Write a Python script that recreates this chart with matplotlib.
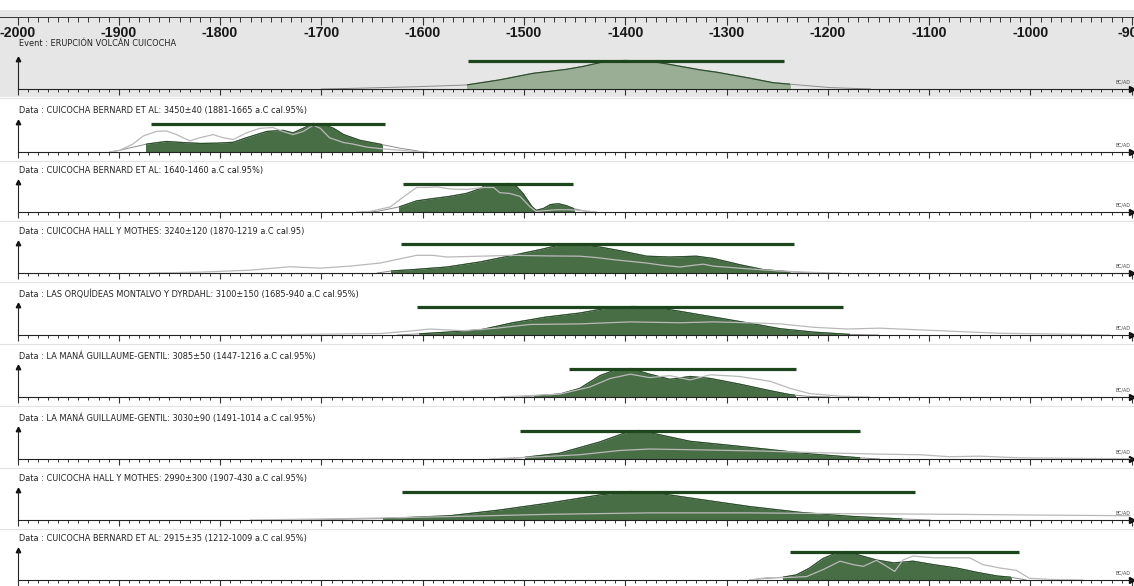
import numpy as np
import matplotlib.pyplot as plt
from matplotlib.patches import Rectangle
from matplotlib.lines import Line2D

plt.rcParams['axes.unicode_minus'] = False

# ---- data (years BC as negative, relative probability 0..1) ----
event_title = "Event : ERUPCIÓN VOLCÁN CUICOCHA"
event_bar = (-1555, -1243)
event_fill = (-1556, -1237)
event_yr = [-1700, -1672, -1606, -1557, -1524, -1491, -1458, -1442, -1418, -1400,
            -1376, -1359, -1326, -1310, -1277, -1254, -1228, -1198, -1158]
event_h = [0.0, 0.02, 0.08, 0.14, 0.32, 0.55, 0.69, 0.79, 0.98, 1.0,
           0.98, 0.88, 0.67, 0.59, 0.38, 0.22, 0.14, 0.05, 0.0]

titles = [
    "Data : CUICOCHA BERNARD ET AL: 3450±40 (1881-1665 a.C cal.95%)",
    "Data : CUICOCHA BERNARD ET AL: 1640-1460 a.C cal.95%)",
    "Data : CUICOCHA HALL Y MOTHES: 3240±120 (1870-1219 a.C cal.95)",
    "Data : LAS ORQUÍDEAS MONTALVO Y DYRDAHL: 3100±150 (1685-940 a.C cal.95%)",
    "Data : LA MANÁ GUILLAUME-GENTIL: 3085±50 (1447-1216 a.C cal.95%)",
    "Data : LA MANÁ GUILLAUME-GENTIL: 3030±90 (1491-1014 a.C cal.95%)",
    "Data : CUICOCHA HALL Y MOTHES: 2990±300 (1907-430 a.C cal.95%)",
    "Data : CUICOCHA BERNARD ET AL: 2915±35 (1212-1009 a.C cal.95%)",
]

p1_bar, p1_fill = (-1868, -1637), (-1873, -1640)
p1_post_yr = [-1909, -1899, -1886, -1872, -1853, -1836, -1820, -1803, -1787, -1774, -1754, -1738,
              -1728, -1718, -1708, -1698, -1688, -1678, -1662, -1640, -1622, -1609, -1600]
p1_post_h = [0.0, 0.06, 0.17, 0.28, 0.37, 0.33, 0.30, 0.31, 0.34, 0.50, 0.72, 0.76,
             0.67, 0.83, 1.0, 0.97, 0.83, 0.61, 0.41, 0.26, 0.13, 0.06, 0.0]
p1_like_yr = [-1909, -1899, -1886, -1876, -1863, -1853, -1843, -1830, -1820, -1807, -1797, -1787, -1774, -1761,
              -1748, -1738, -1728, -1718, -1708, -1701, -1692, -1678, -1669, -1655, -1639, -1622, -1609, -1595]
p1_like_h = [0.0, 0.06, 0.28, 0.56, 0.72, 0.74, 0.61, 0.39, 0.50, 0.61, 0.50, 0.44, 0.67, 0.83,
             0.86, 0.72, 0.61, 0.72, 0.94, 0.83, 0.50, 0.33, 0.28, 0.17, 0.11, 0.06, 0.02, 0.0]

p2_bar, p2_fill = (-1619, -1452), (-1623, -1451)
p2_post_yr = [-1660, -1645, -1623, -1606, -1590, -1573, -1557, -1543, -1537, -1514, -1507,
              -1501, -1492, -1488, -1481, -1474, -1466, -1458, -1451, -1441, -1432]
p2_post_h = [0.0, 0.02, 0.18, 0.39, 0.47, 0.55, 0.65, 0.82, 0.98, 1.0, 0.88,
             0.65, 0.18, 0.06, 0.12, 0.26, 0.29, 0.22, 0.12, 0.04, 0.0]
p2_like_yr = [-1665, -1652, -1632, -1619, -1606, -1596, -1586, -1573, -1557, -1540,
              -1530, -1524, -1514, -1504, -1494, -1488, -1468, -1455, -1441, -1428]
p2_like_h = [0.0, 0.02, 0.18, 0.53, 0.86, 0.86, 0.88, 0.81, 0.79, 0.86,
             0.86, 0.68, 0.65, 0.55, 0.18, 0.02, 0.08, 0.08, 0.04, 0.0]

p3_bar, p3_fill = (-1621, -1233), (-1631, -1237)
p3_post_yr = [-1645, -1631, -1609, -1576, -1543, -1511, -1484, -1465, -1445, -1425,
              -1405, -1379, -1356, -1330, -1313, -1287, -1264, -1237, -1215]
p3_post_h = [0.0, 0.07, 0.12, 0.21, 0.39, 0.62, 0.82, 0.98, 1.0, 0.91,
             0.78, 0.59, 0.56, 0.59, 0.51, 0.29, 0.12, 0.04, 0.0]
p3_like_yr = [-1869, -1820, -1770, -1731, -1701, -1672, -1642, -1606, -1590, -1576, -1543, -1511, -1478,
              -1445, -1428, -1412, -1379, -1363, -1346, -1333, -1323, -1313, -1280, -1247, -1214, -1188]
p3_like_h = [0.0, 0.03, 0.10, 0.22, 0.17, 0.24, 0.35, 0.62, 0.62, 0.56, 0.59, 0.62, 0.60,
             0.59, 0.54, 0.47, 0.35, 0.27, 0.21, 0.27, 0.31, 0.24, 0.15, 0.07, 0.02, 0.0]

p4_bar, p4_fill = (-1606, -1185), (-1604, -1178)
p4_post_yr = [-1625, -1604, -1576, -1543, -1511, -1478, -1445, -1412, -1392, -1372,
              -1346, -1313, -1280, -1247, -1214, -1178, -1150]
p4_post_h = [0.0, 0.04, 0.10, 0.18, 0.43, 0.63, 0.77, 0.98, 1.0, 0.98,
             0.83, 0.63, 0.43, 0.22, 0.10, 0.02, 0.0]
p4_like_yr = [-1770, -1692, -1642, -1609, -1593, -1560, -1527, -1494, -1445, -1395, -1346,
              -1313, -1280, -1247, -1214, -1181, -1149, -1109, -1070, -1030, -971, -922]
p4_like_h = [0.0, 0.03, 0.05, 0.15, 0.21, 0.15, 0.24, 0.37, 0.39, 0.46, 0.43,
             0.46, 0.43, 0.39, 0.27, 0.21, 0.24, 0.18, 0.12, 0.06, 0.03, 0.0]

p5_bar, p5_fill = (-1456, -1231), (-1490, -1232)
p5_post_yr = [-1504, -1484, -1474, -1465, -1445, -1425, -1410, -1395, -1376, -1356,
              -1336, -1316, -1287, -1257, -1237, -1218, -1198]
p5_post_h = [0.0, 0.05, 0.08, 0.10, 0.30, 0.75, 0.95, 1.0, 0.80, 0.62,
             0.72, 0.65, 0.45, 0.22, 0.08, 0.02, 0.0]
p5_like_yr = [-1524, -1494, -1465, -1435, -1415, -1395, -1376, -1356, -1336, -1316,
              -1287, -1257, -1237, -1218, -1188, -1159]
p5_like_h = [0.0, 0.05, 0.10, 0.35, 0.65, 0.80, 0.68, 0.75, 0.60, 0.78,
             0.72, 0.55, 0.30, 0.12, 0.03, 0.0]

p6_bar, p6_fill = (-1504, -1168), (-1499, -1168)
p6_post_yr = [-1524, -1504, -1465, -1425, -1400, -1386, -1366, -1336, -1297, -1257, -1218, -1168, -1149]
p6_post_h = [0.0, 0.04, 0.2, 0.6, 0.92, 1.0, 0.85, 0.62, 0.48, 0.33, 0.18, 0.04, 0.0]
p6_like_yr = [-1534, -1484, -1445, -1405, -1376, -1326, -1267, -1208, -1149, -1109,
              -1080, -1050, -1010, -951, -902]
p6_like_h = [0.0, 0.08, 0.15, 0.30, 0.35, 0.32, 0.28, 0.22, 0.17, 0.15,
             0.08, 0.10, 0.04, 0.02, 0.01]

p7_bar, p7_fill = (-1620, -1114), (-1639, -1127)
p7_post_yr = [-1721, -1639, -1573, -1524, -1474, -1425, -1395, -1366, -1326, -1277, -1228, -1178, -1129, -1099]
p7_post_h = [0.0, 0.05, 0.15, 0.35, 0.60, 0.88, 1.0, 0.93, 0.72, 0.47, 0.27, 0.13, 0.04, 0.0]
p7_like_yr = [-1770, -1672, -1573, -1474, -1376, -1277, -1178, -1080, -981, -902]
p7_like_h = [0.0, 0.05, 0.12, 0.20, 0.25, 0.25, 0.22, 0.20, 0.17, 0.15]

p8_bar, p8_fill = (-1237, -1011), (-1244, -1019)
p8_post_yr = [-1277, -1267, -1244, -1231, -1218, -1205, -1191, -1181, -1172, -1152,
              -1135, -1116, -1096, -1073, -1053, -1033, -1020, -1004]
p8_post_h = [0.0, 0.04, 0.10, 0.18, 0.42, 0.75, 0.96, 1.0, 0.90, 0.70,
             0.60, 0.66, 0.54, 0.42, 0.27, 0.14, 0.10, 0.0]
p8_like_yr = [-1277, -1260, -1244, -1221, -1205, -1188, -1175, -1165, -1152, -1142, -1134,
              -1126, -1116, -1096, -1079, -1060, -1047, -1030, -1014, -1001, -981, -948]
p8_like_h = [0.0, 0.08, 0.08, 0.12, 0.36, 0.66, 0.54, 0.48, 0.69, 0.48, 0.30,
             0.70, 0.84, 0.78, 0.78, 0.78, 0.54, 0.42, 0.34, 0.06, 0.02, 0.0]

panels = [
    (p1_bar, p1_fill, p1_post_yr, p1_post_h, p1_like_yr, p1_like_h),
    (p2_bar, p2_fill, p2_post_yr, p2_post_h, p2_like_yr, p2_like_h),
    (p3_bar, p3_fill, p3_post_yr, p3_post_h, p3_like_yr, p3_like_h),
    (p4_bar, p4_fill, p4_post_yr, p4_post_h, p4_like_yr, p4_like_h),
    (p5_bar, p5_fill, p5_post_yr, p5_post_h, p5_like_yr, p5_like_h),
    (p6_bar, p6_fill, p6_post_yr, p6_post_h, p6_like_yr, p6_like_h),
    (p7_bar, p7_fill, p7_post_yr, p7_post_h, p7_like_yr, p7_like_h),
    (p8_bar, p8_fill, p8_post_yr, p8_post_h, p8_like_yr, p8_like_h),
]

# ---- layout (pixels) ----
W, H = 1134, 586
XMIN, XMAX = -2017.3, -897.8
UNIT = 28.5          # px for relative probability 1.0
AX_H = 46            # px height of each panel axes
event_base = 89
data_bases = [152, 212, 273, 335, 397, 459, 520, 580]

DARK = '#1d461d'
GREEN = '#486e45'
EV_FILL = '#9aae96'
LIKE = '#b9b9b9'
TITLE_KW = dict(family='DejaVu Sans', fontstretch='condensed')

fig = plt.figure(figsize=(W / 100, H / 100), dpi=100)

# grey band behind scale and event panel
fig.patches.append(Rectangle((0, 1 - 97 / H), 1, (97 - 10) / H, transform=fig.transFigure,
                             facecolor='#e6e6e6', edgecolor='none', zorder=-5))
for b in [event_base] + data_bases[:-1]:
    yy = 1 - (b + 9) / H
    fig.lines.append(Line2D([0, 1], [yy, yy], transform=fig.transFigure, color='#e2e2e2',
                            lw=0.8, zorder=-4))


def setup_xaxis(ax):
    ax.set_xlim(XMIN, XMAX)
    ax.set_xticks(np.arange(-2000, -899, 100))
    ax.set_xticks(np.arange(-2000, -899, 10), minor=True)


# top scale
ax0 = fig.add_axes([0, 1 - 17 / H, 1, 0.5 / H])
setup_xaxis(ax0)
ax0.patch.set_alpha(0)
for s in ['top', 'left', 'right']:
    ax0.spines[s].set_visible(False)
ax0.spines['bottom'].set_color('#333333')
ax0.spines['bottom'].set_linewidth(0.7)
ax0.set_yticks([])
ax0.set_xticklabels([str(v) for v in range(-2000, -899, 100)])
ax0.tick_params(axis='x', which='major', length=6, width=0.8, color='#333333', pad=0.3,
                labelsize=10.2)
ax0.tick_params(axis='x', which='minor', length=3.6, width=0.7, color='#333333')
for lab in ax0.get_xticklabels():
    lab.set_family(['Liberation Sans', 'DejaVu Sans'])
    lab.set_fontweight('bold')
    lab.set_color('#1a1a1a')


def draw_panel(base, title, bar, fill, post_yr, post_h, like_yr=None, like_h=None,
               fill_col=GREEN, title_dy=41):
    ax = fig.add_axes([0, 1 - base / H, 1, AX_H / H])
    setup_xaxis(ax)
    ax.set_ylim(0, AX_H / UNIT)
    ax.patch.set_alpha(0)
    for s in ['top', 'right']:
        ax.spines[s].set_visible(False)
    ax.spines['left'].set_position(('data', -2000))
    ax.spines['left'].set_bounds(0, 1.02)
    ax.spines['bottom'].set_bounds(-2000, -900)
    for s in ['left', 'bottom']:
        ax.spines[s].set_linewidth(0.8)
        ax.spines[s].set_color('#222222')
    ax.set_yticks([])
    ax.set_xticklabels([])
    ax.tick_params(axis='x', which='major', length=4.2, width=0.8, color='#333333')
    ax.tick_params(axis='x', which='minor', length=2.4, width=0.7, color='#333333')
    ax.plot([-2000], [1.05], marker='^', ms=3.2, color='#111111', clip_on=False)
    ax.plot([-900], [0], marker='>', ms=4, color='#111111', clip_on=False)
    ax.text(-901, 0.16, 'BC/AD', fontsize=3.8, ha='right', va='bottom', color='#444444',
            **TITLE_KW)

    clip = Rectangle((fill[0], -0.2), fill[1] - fill[0], 3, transform=ax.transData)
    f = ax.fill_between(post_yr, 0, post_h, color=fill_col, lw=0, zorder=2)
    f.set_clip_path(clip)
    ax.plot(post_yr, post_h, color='#8c8c8c', lw=0.7, zorder=2)
    edge, = ax.plot(post_yr, post_h, color='#2c512c', lw=0.9, zorder=3)
    edge.set_clip_path(clip)
    if like_yr is not None:
        ax.plot(like_yr, like_h, color=LIKE, lw=0.9, zorder=4)
    ax.hlines(1.0, bar[0], bar[1], color=DARK, lw=2.3, zorder=5)
    ax.text(-1999, title_dy / UNIT, title, fontsize=6.6, ha='left', va='center',
            color='#222222', **TITLE_KW)
    return ax


draw_panel(event_base, event_title, event_bar, event_fill, event_yr, event_h,
           fill_col=EV_FILL, title_dy=46)
for base, title, p in zip(data_bases, titles, panels):
    draw_panel(base, title, *p)

fig.savefig('out.png', dpi=100)
